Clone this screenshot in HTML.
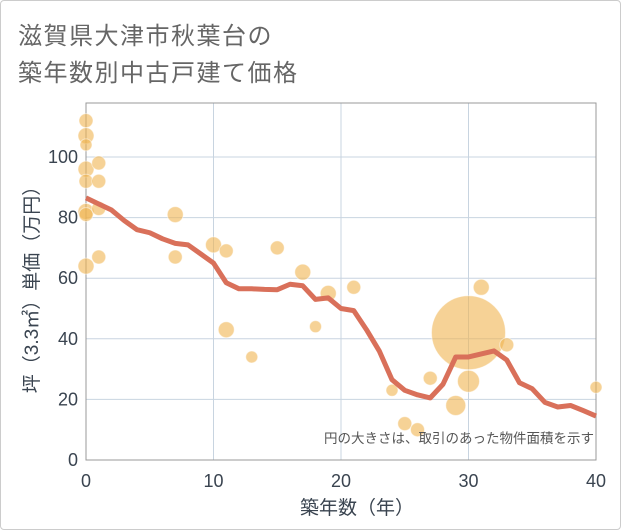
<!DOCTYPE html>
<html><head><meta charset="utf-8"><style>
html,body{margin:0;padding:0;background:#fff;}
#wrap{position:relative;width:619px;height:528px;border:1px solid #ccc;border-radius:4px;overflow:hidden;font-family:"Liberation Sans","Noto Sans CJK JP",sans-serif;}
.title{position:absolute;left:17px;font-size:24px;color:#666;letter-spacing:1.5px;}
</style></head><body>
<div id="wrap">
<div class="title" style="top:15px">滋賀県大津市秋葉台の</div>
<div class="title" style="top:52px">築年数別中古戸建て価格</div>
<svg id="chart" width="621" height="530" style="position:absolute;left:-1px;top:-1px"></svg>
</div>
<script>
const lineYears=[0,1,2,3,4,5,6,7,8,9,10,11,12,13,14,15,16,17,18,19,20,21,22,23,24,25,26,27,28,29,30,31,32,33,34,35,36,37,38,39,40];
const lineValues=[86.5,84.5,82.5,79,76,75,73,71.5,71,68,65,58.5,56.5,56.5,56.3,56.2,58,57.5,53,53.5,50,49.3,43,36,26.5,23,21.5,20.5,25,34,34,35,36,33,25.5,23.5,19,17.5,18,16.3,14.5];
const ptYears=[0,0,0,0,0,0,0,0,1,1,1,1,7,7,10,11,11,13,15,17,18,19,21,24,25,26,27,29,30,30,31,33,40];
const ptValues=[112,107,104,96,92,82,81,64,98,92,83,67,81,67,71,69,43,34,70,62,44,55,57,23,12,10,27,18,42,26,57,38,24];
const ptSizes=[7,8,6,8,7,8,7,8,7,7,7,7,8,7,8,7,8,6,7,8,6,8,7,6,7,7,7,10,37,11,8,7,6];
const xTicks=[0,10,20,30,40];
const yTicks=[0,20,40,60,80,100];
const NS='http://www.w3.org/2000/svg';
const svg=document.getElementById('chart');
const L=86,R=596,T=103,B=460;
const X=v=>L+(v-0)/40*(R-L);
const Y=v=>B-v*3.03;
function mk(tag,attrs,name){const e=document.createElementNS(NS,tag);for(const k in attrs)e.setAttribute(k,attrs[k]);


svg.appendChild(e);return e;}
xTicks.forEach(t=>{mk('line',{x1:X(t),x2:X(t),y1:T,y2:B,stroke:'#c8d4e0','stroke-width':1},'x-gridline');
const tx=mk('text',{x:X(t),y:B+27,'text-anchor':'middle','font-size':18,fill:'#3a4450'},'x-tick-label');tx.textContent=t;});
yTicks.forEach(t=>{mk('line',{x1:L,x2:R,y1:Y(t),y2:Y(t),stroke:'#c8d4e0','stroke-width':1},'y-gridline');
const tx=mk('text',{x:L-8,y:Y(t)+6,'text-anchor':'end','font-size':18,fill:'#3a4450'},'y-tick-label');tx.textContent=t;});
mk('rect',{x:L,y:T,width:R-L,height:B-T,fill:'none',stroke:'#999','stroke-width':1},'plot-border');
ptYears.forEach((yr,i)=>{mk('circle',{cx:X(yr),cy:Y(ptValues[i]),r:ptSizes[i],fill:'rgba(240,180,80,0.6)',stroke:'rgba(255,255,255,0.5)','stroke-width':1},'scatter-point');});
mk('polyline',{points:lineYears.map((yr,i)=>X(yr)+','+Y(lineValues[i])).join(' '),fill:'none',stroke:'#d9705a','stroke-width':5,'stroke-linejoin':'round'},'average-price-line');
const n=mk('text',{x:R-2,y:443,'text-anchor':'end','font-size':13.5,fill:'#555'},'size-note');n.textContent='円の大きさは、取引のあった物件面積を示す';
const xt=mk('text',{x:357,y:514,'text-anchor':'middle','font-size':19,fill:'#3a4450'},'x-axis-title');xt.textContent='築年数（年）';
const yt=mk('text',{x:0,y:0,'text-anchor':'middle','font-size':19,fill:'#3a4450',transform:'translate(38,'+285+') rotate(-90)'},'y-axis-title');yt.textContent='坪（3.3㎡）単価（万円）';
</script>
</body></html>
